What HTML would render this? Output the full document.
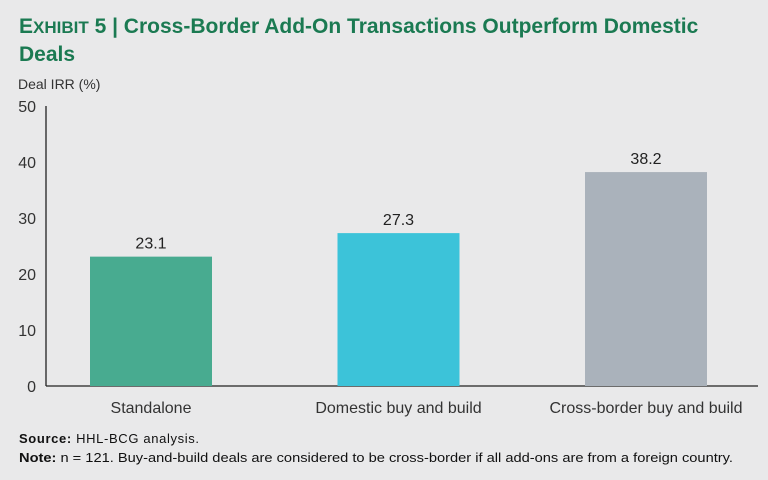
<!DOCTYPE html>
<html><head><meta charset="utf-8"><style>
body{margin:0;width:768px;height:480px;background:#e9e9ea;font-family:"Liberation Sans",sans-serif;position:relative;overflow:hidden}
.t{position:absolute;color:#1b7a52;font-weight:bold;font-size:21px;left:19px;line-height:27px;white-space:nowrap}
</style></head><body>
<div class="t" style="top:13px">E<span style="font-size:17px">XHIBIT</span> 5 | Cross-Border Add-On Transactions Outperform Domestic<br>Deals</div>
<svg width="768" height="480" style="position:absolute;left:0;top:0" id="c">
<text x="18" y="89" font-size="14" fill="#333">Deal IRR (%)</text>
<g id="ax"></g><g id="bars"></g>
<text x="19" y="443" font-size="13" fill="#111" textLength="180"><tspan font-weight="bold">Source:</tspan> HHL-BCG analysis.</text>
<text x="19" y="462" font-size="13" fill="#111" textLength="714" lengthAdjust="spacingAndGlyphs"><tspan font-weight="bold">Note:</tspan> n = 121. Buy-and-build deals are considered to be cross-border if all add-ons are from a foreign country.</text>
</svg>
<script>
const categories=["Standalone","Domestic buy and build","Cross-border buy and build"];
const values=[23.1,27.3,38.2];
const valueLabels=["23.1","27.3","38.2"];
const ticks=[0,10,20,30,40,50];
const colors=["#48ab90","#3cc3d9","#aab2bb"];
const NS="http://www.w3.org/2000/svg";
const y=v=>386-v*5.6;
const cx=i=>151+i*247.5;
function mk(t,a,p){const e=document.createElementNS(NS,t);for(const k in a)e.setAttribute(k,a[k]);p.appendChild(e);return e;}
const ax=document.getElementById('ax'),bg=document.getElementById('bars');
ticks.forEach(t=>{const e=mk('text',{x:36,y:y(t)+6,'font-size':16,fill:'#333','text-anchor':'end'},ax);e.textContent=t;

});
const yl=mk('line',{x1:46,x2:46,y1:y(50),y2:386,stroke:'#222','stroke-width':1.3},ax);


const xl=mk('line',{x1:46,x2:758,y1:386,y2:386,stroke:'#222','stroke-width':1.3},ax);


values.forEach((v,i)=>{
const r=mk('rect',{x:cx(i)-61,y:y(v),width:122,height:386-y(v),fill:colors[i]},bg);


const l=mk('text',{x:cx(i),y:y(v)-8,'font-size':16,fill:'#222','text-anchor':'middle'},bg);l.textContent=valueLabels[i];


const c=mk('text',{x:cx(i),y:413,'font-size':16,fill:'#333','text-anchor':'middle'},bg);c.textContent=categories[i];


});
</script>
</body></html>
